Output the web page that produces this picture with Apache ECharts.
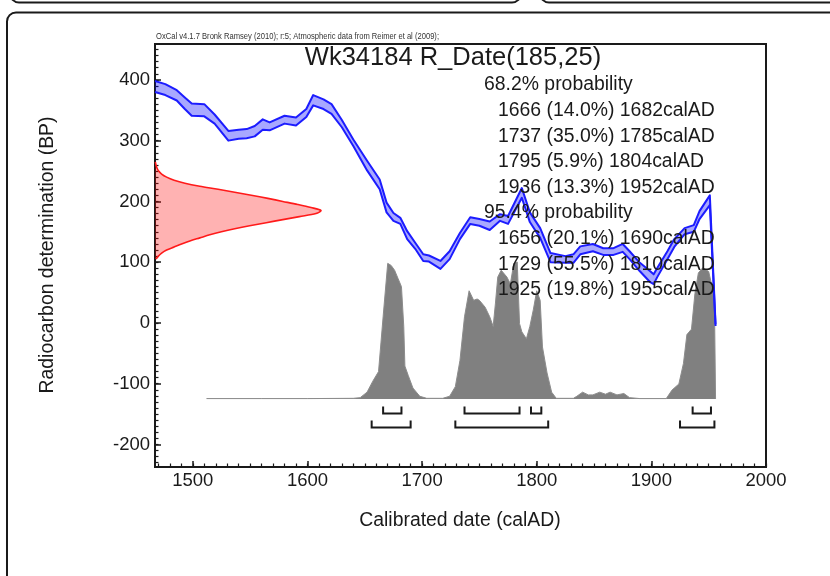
<!DOCTYPE html>
<html><head><meta charset="utf-8">
<script src="https://cdn.jsdelivr.net/npm/echarts@6/dist/echarts.min.js"></script>
<style>html,body{margin:0;padding:0;background:#fff}#c{width:830px;height:576px}</style>
</head><body><div id="c"></div>
<script>
// ---------- data ----------
const titleText = 'Wk34184 R_Date(185,25)';
const creditText = 'OxCal v4.1.7 Bronk Ramsey (2010); r:5; Atmospheric data from Reimer et al (2009);';
const xAxisTitle = 'Calibrated date (calAD)';
const yAxisTitle = 'Radiocarbon determination (BP)';
const xTickLabels = [1500, 1600, 1700, 1800, 1900, 2000];
const yTickLabels = [-200, -100, 0, 100, 200, 300, 400];

// calibration curve band (calAD, upper BP, lower BP)
const curveYears = [1467,1476,1486,1493,1499,1510,1519,1531,1540,1547,1554,1561,1567,1580,1590,1599,1605,1614,1621,1630,1640,1652,1663,1669,1675,1681,1687,1694,1701,1706,1716,1724,1733,1742,1750,1759,1768,1775,1787,1794,1803,1812,1825,1832,1838,1849,1858,1867,1875,1881,1890,1899,1902,1905,1914,1920,1929,1937,1942,1951,1956];
const curveUpper = [398,393,383,371,361,360,343,316,318,319,324,335,330,341,338,352,375,368,360,334,302,267,236,198,181,173,151,132,113,111,102,118,148,174,171,167,179,176,222,182,156,115,110,113,126,130,123,123,130,118,99,85,80,90,118,138,156,161,184,210,-2];
const curveLower = [380,375,366,352,341,340,328,300,303,304,307,318,317,328,325,339,358,352,344,322,291,251,220,182,168,163,138,122,102,101,89,105,138,163,160,153,168,163,206,166,140,100,99,99,113,118,112,112,117,105,85,67,64,75,105,125,146,150,171,194,-5];

// calibrated probability distribution (relative)
const calYears = [1512,1560,1600,1640,1646,1652,1657,1662,1666,1670,1673,1676,1679,1682,1684,1685,1688,1692,1698,1704,1718,1724,1729,1733,1737,1741,1745,1748,1750,1755,1759,1762,1764,1766,1769,1774,1777,1780,1783,1785,1787,1791,1794,1797,1800,1803,1805,1809,1813,1817,1832,1835,1840,1845,1849,1855,1860,1864,1870,1876,1881,1890,1913,1918,1924,1928,1931,1935,1938,1941,1945,1950,1953,1955,1956];
const calProb = [0.003,0.003,0.003,0.005,0.01,0.05,0.13,0.2,0.6,0.99,0.975,0.94,0.88,0.82,0.53,0.24,0.17,0.08,0.02,0.005,0.005,0.02,0.09,0.28,0.6,0.79,0.72,0.73,0.72,0.67,0.6,0.53,0.7,0.89,0.94,0.89,0.84,0.99,1.0,0.55,0.49,0.44,0.53,0.65,0.79,0.72,0.38,0.19,0.05,0.005,0.005,0.02,0.05,0.03,0.03,0.05,0.035,0.05,0.03,0.04,0.01,0.003,0.003,0.065,0.11,0.26,0.47,0.51,0.77,0.92,0.96,0.93,0.82,0.72,0];

// radiocarbon determination distribution (BP, relative)
const rdateBP = [265,260,255,250,245,240,235,230,225,220,215,210,205,200,195,190,185,180,175,170,165,160,155,150,145,140,135,130,125,120,115,110,105];
const rdateDensity = [0.002,0.006,0.012,0.022,0.04,0.07,0.115,0.18,0.27,0.38,0.48,0.58,0.68,0.77,0.86,0.94,1.0,0.97,0.87,0.77,0.67,0.57,0.48,0.40,0.33,0.27,0.21,0.16,0.115,0.07,0.04,0.02,0.006];

// ranges
const range68 = [[1666,1682],[1737,1785],[1795,1804],[1936,1952]];
const range95 = [[1656,1690],[1729,1810],[1925,1955]];
const head68 = '68.2% probability';
const lines68 = ['1666 (14.0%) 1682calAD','1737 (35.0%) 1785calAD','1795 (5.9%) 1804calAD','1936 (13.3%) 1952calAD'];
const head95 = '95.4% probability';
const lines95 = ['1656 (20.1%) 1690calAD','1729 (55.5%) 1810calAD','1925 (19.8%) 1955calAD'];

// ---------- layout ----------
const FONT = "'Liberation Sans', Arial, Helvetica, sans-serif";
const INK = '#1a1a1a';
const BLUE = '#1c1cff';
const G = {left: 155, top: 44, width: 611, height: 423};
const xMinor = []; for (let v = 1470; v <= 2000; v += 10) xMinor.push(v);
const yMinor = []; for (let v = -230; v <= 450; v += 10) yMinor.push(v);

const chart = echarts.init(document.getElementById('c'), null, {renderer: 'canvas'});

function bracketSeries(ranges, off) {
  return {
    type: 'custom', xAxisIndex: 0, yAxisIndex: 2, silent: true, z: 5,
    data: ranges,
    renderItem: function (params, api) {
      const a = api.coord([api.value(0), 0]);
      const b = api.coord([api.value(1), 0]);
      const y = Math.round(a[1] + off) + 0.5;
      return {type: 'polyline', shape: {points: [[a[0], y - 7], [a[0], y], [b[0], y], [b[0], y - 7]]},
        style: {stroke: INK, lineWidth: 2, fill: null}};
    }
  };
}

const textEls = [];
const lineStep = 25.6;
const PF = '19.4px ' + FONT;
let ty = 85;
textEls.push({type:'text', x: 484, y: ty, style:{text: head68, font: PF, fill: INK, textVerticalAlign:'middle'}, z: 100});
lines68.forEach(t => { ty += lineStep; textEls.push({type:'text', x: 498, y: ty, style:{text: t, font: PF, fill: INK, textVerticalAlign:'middle'}, z: 100}); });
ty += lineStep;
textEls.push({type:'text', x: 484, y: ty, style:{text: head95, font: PF, fill: INK, textVerticalAlign:'middle'}, z: 100});
lines95.forEach(t => { ty += lineStep; textEls.push({type:'text', x: 498, y: ty, style:{text: t, font: PF, fill: INK, textVerticalAlign:'middle'}, z: 100}); });

const plainNum = v => String(v);

const option = {
  animation: false,
  backgroundColor: '#ffffff',
  grid: {left: G.left, top: G.top, width: G.width, height: G.height, containLabel: false,
    show: true, borderColor: INK, borderWidth: 2, backgroundColor: 'transparent'},
  xAxis: [
    {type: 'value', min: 1467, max: 2000, position: 'bottom',
      axisLine: {show: true, onZero: false, lineStyle: {color: INK, width: 2}},
      axisTick: {show: true, inside: true, length: 6, customValues: xTickLabels, lineStyle: {color: INK, width: 1.5}},
      axisLabel: {show: true, customValues: xTickLabels, formatter: plainNum, margin: 4, fontSize: 18.5, fontFamily: FONT, color: INK},
      splitLine: {show: false}},
    {type: 'value', min: 1467, max: 2000, position: 'bottom',
      axisLine: {show: false, onZero: false},
      axisTick: {show: true, inside: true, length: 3.5, customValues: xMinor, lineStyle: {color: INK, width: 1.2}},
      axisLabel: {show: false}, splitLine: {show: false}},
    {type: 'value', min: 0, max: G.width / 166, show: false, position: 'top'}
  ],
  yAxis: [
    {type: 'value', min: -237, max: 459, position: 'left',
      axisLine: {show: true, onZero: false, lineStyle: {color: INK, width: 2}},
      axisTick: {show: true, inside: true, length: 6, customValues: yTickLabels, lineStyle: {color: INK, width: 1.5}},
      axisLabel: {show: true, customValues: yTickLabels, formatter: plainNum, margin: 5, fontSize: 18.5, fontFamily: FONT, color: INK},
      splitLine: {show: false}},
    {type: 'value', min: -237, max: 459, position: 'left',
      axisLine: {show: false, onZero: false},
      axisTick: {show: true, inside: true, length: 3.5, customValues: yMinor, lineStyle: {color: INK, width: 1.2}},
      axisLabel: {show: false}, splitLine: {show: false}},
    {type: 'value', min: -68 / 137, max: (G.height - 68) / 137, show: false, position: 'right'}
  ],
  series: [
    {type: 'line', xAxisIndex: 0, yAxisIndex: 2, silent: true, z: 1,
      data: calYears.map((y, i) => [y, calProb[i]]),
      symbol: 'none', lineStyle: {color: '#8c8c8c', width: 1},
      areaStyle: {color: '#808080', opacity: 1}},
    bracketSeries(range68, 14),
    bracketSeries(range95, 28),
    {type: 'custom', xAxisIndex: 2, yAxisIndex: 0, silent: true, z: 2,
      data: rdateBP.map((b, i) => [rdateDensity[i], b]),
      renderItem: function (params, api) {
        if (params.dataIndex !== 0) return null;
        const pts = rdateBP.map((b, i) => api.coord([rdateDensity[i], b]));
        const b0 = api.coord([0, rdateBP[0]]);
        const b1 = api.coord([0, rdateBP[rdateBP.length - 1]]);
        return {type: 'group', children: [
          {type: 'polygon', shape: {points: [b0].concat(pts, [b1])}, style: {fill: 'rgba(255,0,0,0.3)', stroke: null}},
          {type: 'polyline', shape: {points: pts, smooth: 0.3}, style: {stroke: '#ff1a1a', lineWidth: 1.6, fill: null}}
        ]};
      }},
    {type: 'custom', xAxisIndex: 0, yAxisIndex: 0, silent: true, z: 4,
      data: curveYears.map((y, i) => [y, curveUpper[i], curveLower[i]]),
      encode: {x: 0, y: [1, 2]},
      renderItem: function (params, api) {
        if (params.dataIndex !== 0) return null;
        const up = curveYears.map((y, i) => api.coord([y, curveUpper[i]]));
        const lo = curveYears.map((y, i) => api.coord([y, curveLower[i]]));
        return {type: 'group', children: [
          {type: 'polygon', shape: {points: up.concat(lo.slice().reverse())}, style: {fill: 'rgba(0,0,255,0.34)', stroke: null}},
          {type: 'polyline', shape: {points: up}, style: {stroke: BLUE, lineWidth: 2, fill: null, lineJoin: 'round'}},
          {type: 'polyline', shape: {points: lo}, style: {stroke: BLUE, lineWidth: 2, fill: null, lineJoin: 'round'}}
        ]};
      }}
  ],
  graphic: [
    {type: 'rect', shape: {x: 7, y: 12.5, width: 900, height: 700, r: 9}, style: {fill: null, stroke: INK, lineWidth: 2}, z: 0},
    {type: 'rect', shape: {x: 10, y: -60, width: 511, height: 62.5, r: 9}, style: {fill: null, stroke: INK, lineWidth: 2}, z: 0},
    {type: 'rect', shape: {x: 540, y: -60, width: 400, height: 62.5, r: 9}, style: {fill: null, stroke: INK, lineWidth: 2}, z: 0},
    {type: 'text', x: 156, y: 41, scaleX: 0.8, style: {text: creditText, font: '9.5px ' + FONT, fill: '#333', textVerticalAlign: 'bottom'}, z: 100},
    {type: 'text', x: 453, y: 58, style: {text: titleText, font: '25.5px ' + FONT, fill: INK, textAlign: 'center', textVerticalAlign: 'middle'}, z: 100},
    {type: 'text', x: 460, y: 521, style: {text: xAxisTitle, font: PF, fill: INK, textAlign: 'center', textVerticalAlign: 'middle'}, z: 100},
    {type: 'text', x: 48, y: 255, rotation: Math.PI / 2, style: {text: yAxisTitle, font: PF, fill: INK, textAlign: 'center', textVerticalAlign: 'middle'}, z: 100}
  ].concat(textEls)
};
chart.setOption(option);
</script></body></html>
